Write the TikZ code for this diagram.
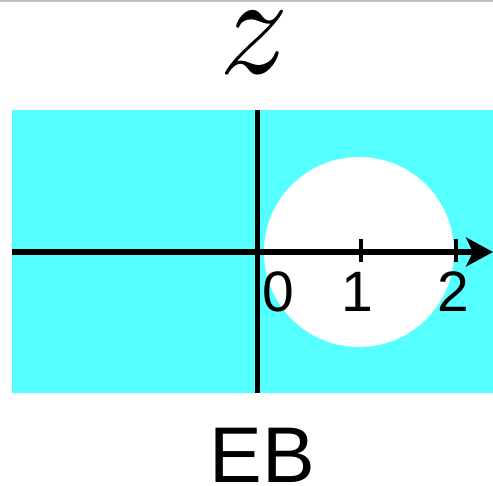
\documentclass[tikz,border=0pt]{standalone}
\usepackage{fontspec}
\newfontfamily\arialf{Liberation Sans}
\usetikzlibrary{arrows.meta}
\definecolor{cyanbg}{RGB}{85,255,255}
\definecolor{topgray}{RGB}{192,192,192}
\begin{document}
\begin{tikzpicture}[x=1pt,y=-1pt,
  lbl/.style={inner sep=0pt,anchor=base},
  axis/.style={line width=5.5pt},
  tickm/.style={line width=4pt}]
\useasboundingbox (0,0) rectangle (493,485);
\fill[topgray] (0,0) rectangle (493,2);
\fill[cyanbg] (12,110) rectangle (493,393);
\fill[white] (359,252) circle (95);
\coordinate (left) at (12,252);
\coordinate (right) at (493,252);
\coordinate (top) at (257.5,110);
\coordinate (bot) at (257.5,393);
\draw[axis] (top) -- (bot);
\draw[axis,-{Stealth[length=27pt,width=29pt,inset=7pt]}] (left) -- (right);
\coordinate (t1a) at (361,239); \coordinate (t1b) at (361,262);
\coordinate (t2a) at (456,239); \coordinate (t2b) at (456,262);
\draw[tickm] (t1a) -- (t1b);
\draw[tickm] (t2a) -- (t2b);
\node[lbl,xscale=13.7,yscale=14.3] (z) at (254,73) {$z$};
\node[lbl] (n0) at (278,311) {\arialf\fontsize{57}{57}\selectfont 0};
\node[lbl] (n1) at (357,311) {\arialf\fontsize{57}{57}\selectfont 1};
\node[lbl] (n2) at (453,311) {\arialf\fontsize{57}{57}\selectfont 2};
\node[lbl] (eb) at (262,482) {\arialf\fontsize{79}{79}\selectfont EB};
\end{tikzpicture}
\end{document}
